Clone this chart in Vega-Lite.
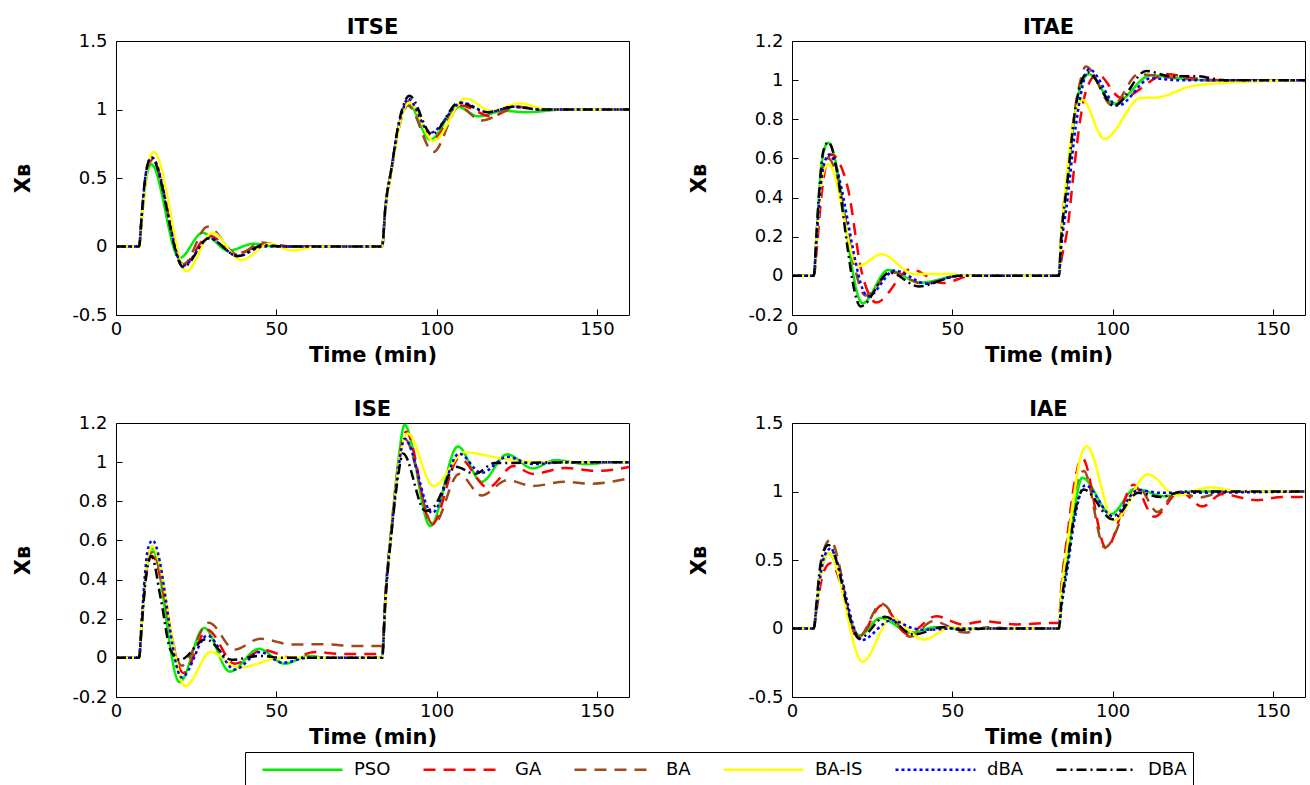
{
"$schema":"https://vega.github.io/schema/vega-lite/v6.json",
"padding":{"left":12,"top":16,"right":5,"bottom":0},
"background":"white",
"config":{
 "view":{"stroke":"black","strokeWidth":1},
 "font":"DejaVu Sans",
 "axis":{"grid":false,"domain":false,"offset":-6,"tickColor":"black","tickSize":6,"labelFont":"DejaVu Sans","labelFontSize":18,"labelColor":"black","titleFont":"DejaVu Sans","titleFontSize":21,"titleFontWeight":"bold","titleColor":"black","labelExpr":"replace(format(datum.value,'~g'),'−','-')"},
 "axisX":{"labelPadding":5,"titlePadding":6,"labelFlush":false},
 "axisY":{"labelPadding":9,"titlePadding":38},
 "title":{"font":"DejaVu Sans","fontSize":21,"fontWeight":"bold","color":"black","offset":-6},
 "legend":{"symbolType":"M-4,0H4","symbolSize":400,"symbolOffset":40,"symbolStrokeWidth":2.5,"labelFont":"DejaVu Sans","labelFontSize":18,"labelColor":"black","labelOffset":40,"columnPadding":21,"padding":6,"strokeColor":"black","direction":"horizontal","orient":"none","legendX":129,"legendY":711}
},
"data":{"name":"d"},
"datasets":{"d":[
{"p":"ITSE","a":"PSO","t":0,"x":0},{"p":"ITSE","a":"PSO","t":7.2,"x":0},{"p":"ITSE","a":"PSO","t":8,"x":0.19},{"p":"ITSE","a":"PSO","t":9,"x":0.42},{"p":"ITSE","a":"PSO","t":10,"x":0.56},{"p":"ITSE","a":"PSO","t":11,"x":0.6},{"p":"ITSE","a":"PSO","t":19.8,"x":-0.085},{"p":"ITSE","a":"PSO","t":27,"x":0.1},{"p":"ITSE","a":"PSO","t":35,"x":-0.03},{"p":"ITSE","a":"PSO","t":43,"x":0.02},{"p":"ITSE","a":"PSO","t":50,"x":0},{"p":"ITSE","a":"PSO","t":83,"x":0},{"p":"ITSE","a":"PSO","t":84,"x":0.28},{"p":"ITSE","a":"PSO","t":86,"x":0.58},{"p":"ITSE","a":"PSO","t":88,"x":0.86},{"p":"ITSE","a":"PSO","t":89.5,"x":0.99},{"p":"ITSE","a":"PSO","t":91,"x":1.05},{"p":"ITSE","a":"PSO","t":98,"x":0.78},{"p":"ITSE","a":"PSO","t":106.5,"x":1.02},{"p":"ITSE","a":"PSO","t":113,"x":0.95},{"p":"ITSE","a":"PSO","t":121,"x":0.99},{"p":"ITSE","a":"PSO","t":128,"x":0.98},{"p":"ITSE","a":"PSO","t":140,"x":1},{"p":"ITSE","a":"PSO","t":160,"x":1},
{"p":"ITSE","a":"GA","t":0,"x":0},{"p":"ITSE","a":"GA","t":7.2,"x":0},{"p":"ITSE","a":"GA","t":8,"x":0.2},{"p":"ITSE","a":"GA","t":9,"x":0.45},{"p":"ITSE","a":"GA","t":10,"x":0.59},{"p":"ITSE","a":"GA","t":11.3,"x":0.63},{"p":"ITSE","a":"GA","t":21,"x":-0.13},{"p":"ITSE","a":"GA","t":29,"x":0.08},{"p":"ITSE","a":"GA","t":37.5,"x":-0.05},{"p":"ITSE","a":"GA","t":47,"x":0.02},{"p":"ITSE","a":"GA","t":55,"x":0},{"p":"ITSE","a":"GA","t":83,"x":0},{"p":"ITSE","a":"GA","t":84,"x":0.27},{"p":"ITSE","a":"GA","t":86,"x":0.57},{"p":"ITSE","a":"GA","t":88,"x":0.85},{"p":"ITSE","a":"GA","t":89.5,"x":0.98},{"p":"ITSE","a":"GA","t":91.2,"x":1.06},{"p":"ITSE","a":"GA","t":99,"x":0.79},{"p":"ITSE","a":"GA","t":107.5,"x":1.03},{"p":"ITSE","a":"GA","t":117,"x":0.95},{"p":"ITSE","a":"GA","t":125,"x":1.02},{"p":"ITSE","a":"GA","t":133,"x":1},{"p":"ITSE","a":"GA","t":160,"x":1},
{"p":"ITSE","a":"BA","t":0,"x":0},{"p":"ITSE","a":"BA","t":7.2,"x":0},{"p":"ITSE","a":"BA","t":8,"x":0.21},{"p":"ITSE","a":"BA","t":9,"x":0.46},{"p":"ITSE","a":"BA","t":10,"x":0.6},{"p":"ITSE","a":"BA","t":11.2,"x":0.64},{"p":"ITSE","a":"BA","t":21,"x":-0.13},{"p":"ITSE","a":"BA","t":28.5,"x":0.145},{"p":"ITSE","a":"BA","t":38,"x":-0.06},{"p":"ITSE","a":"BA","t":45.5,"x":0.03},{"p":"ITSE","a":"BA","t":52,"x":0},{"p":"ITSE","a":"BA","t":83,"x":0},{"p":"ITSE","a":"BA","t":84,"x":0.27},{"p":"ITSE","a":"BA","t":86,"x":0.56},{"p":"ITSE","a":"BA","t":88,"x":0.84},{"p":"ITSE","a":"BA","t":89.5,"x":0.97},{"p":"ITSE","a":"BA","t":91,"x":1.03},{"p":"ITSE","a":"BA","t":99,"x":0.69},{"p":"ITSE","a":"BA","t":107,"x":1.02},{"p":"ITSE","a":"BA","t":114,"x":0.92},{"p":"ITSE","a":"BA","t":125,"x":1.02},{"p":"ITSE","a":"BA","t":133,"x":1},{"p":"ITSE","a":"BA","t":160,"x":1},
{"p":"ITSE","a":"BA-IS","t":0,"x":0},{"p":"ITSE","a":"BA-IS","t":7.2,"x":0},{"p":"ITSE","a":"BA-IS","t":8,"x":0.18},{"p":"ITSE","a":"BA-IS","t":9,"x":0.43},{"p":"ITSE","a":"BA-IS","t":10,"x":0.6},{"p":"ITSE","a":"BA-IS","t":11.8,"x":0.69},{"p":"ITSE","a":"BA-IS","t":22,"x":-0.18},{"p":"ITSE","a":"BA-IS","t":30,"x":0.1},{"p":"ITSE","a":"BA-IS","t":39,"x":-0.1},{"p":"ITSE","a":"BA-IS","t":48,"x":0.02},{"p":"ITSE","a":"BA-IS","t":55,"x":-0.03},{"p":"ITSE","a":"BA-IS","t":63,"x":0},{"p":"ITSE","a":"BA-IS","t":83,"x":0},{"p":"ITSE","a":"BA-IS","t":84,"x":0.27},{"p":"ITSE","a":"BA-IS","t":86,"x":0.56},{"p":"ITSE","a":"BA-IS","t":88,"x":0.84},{"p":"ITSE","a":"BA-IS","t":89.5,"x":0.98},{"p":"ITSE","a":"BA-IS","t":91.5,"x":1.05},{"p":"ITSE","a":"BA-IS","t":99,"x":0.77},{"p":"ITSE","a":"BA-IS","t":109,"x":1.08},{"p":"ITSE","a":"BA-IS","t":117,"x":0.99},{"p":"ITSE","a":"BA-IS","t":126,"x":1.045},{"p":"ITSE","a":"BA-IS","t":135,"x":1},{"p":"ITSE","a":"BA-IS","t":160,"x":1},
{"p":"ITSE","a":"dBA","t":0,"x":0},{"p":"ITSE","a":"dBA","t":7.2,"x":0},{"p":"ITSE","a":"dBA","t":8,"x":0.22},{"p":"ITSE","a":"dBA","t":9,"x":0.48},{"p":"ITSE","a":"dBA","t":10,"x":0.61},{"p":"ITSE","a":"dBA","t":11.2,"x":0.65},{"p":"ITSE","a":"dBA","t":21,"x":-0.14},{"p":"ITSE","a":"dBA","t":29,"x":0.06},{"p":"ITSE","a":"dBA","t":38,"x":-0.07},{"p":"ITSE","a":"dBA","t":46,"x":0},{"p":"ITSE","a":"dBA","t":83,"x":0},{"p":"ITSE","a":"dBA","t":84,"x":0.28},{"p":"ITSE","a":"dBA","t":86,"x":0.58},{"p":"ITSE","a":"dBA","t":88,"x":0.87},{"p":"ITSE","a":"dBA","t":89.5,"x":1},{"p":"ITSE","a":"dBA","t":91,"x":1.08},{"p":"ITSE","a":"dBA","t":98,"x":0.83},{"p":"ITSE","a":"dBA","t":108,"x":1.05},{"p":"ITSE","a":"dBA","t":116,"x":0.98},{"p":"ITSE","a":"dBA","t":124,"x":1.02},{"p":"ITSE","a":"dBA","t":132,"x":1},{"p":"ITSE","a":"dBA","t":160,"x":1},
{"p":"ITSE","a":"DBA","t":0,"x":0},{"p":"ITSE","a":"DBA","t":7.2,"x":0},{"p":"ITSE","a":"DBA","t":8,"x":0.22},{"p":"ITSE","a":"DBA","t":9,"x":0.48},{"p":"ITSE","a":"DBA","t":10,"x":0.61},{"p":"ITSE","a":"DBA","t":11,"x":0.65},{"p":"ITSE","a":"DBA","t":21,"x":-0.15},{"p":"ITSE","a":"DBA","t":29,"x":0.06},{"p":"ITSE","a":"DBA","t":38,"x":-0.07},{"p":"ITSE","a":"DBA","t":46,"x":0.01},{"p":"ITSE","a":"DBA","t":52,"x":0},{"p":"ITSE","a":"DBA","t":83,"x":0},{"p":"ITSE","a":"DBA","t":84,"x":0.28},{"p":"ITSE","a":"DBA","t":86,"x":0.58},{"p":"ITSE","a":"DBA","t":88,"x":0.88},{"p":"ITSE","a":"DBA","t":89.5,"x":1.02},{"p":"ITSE","a":"DBA","t":91.5,"x":1.1},{"p":"ITSE","a":"DBA","t":98.5,"x":0.82},{"p":"ITSE","a":"DBA","t":107,"x":1.05},{"p":"ITSE","a":"DBA","t":116,"x":0.98},{"p":"ITSE","a":"DBA","t":124,"x":1.02},{"p":"ITSE","a":"DBA","t":132,"x":1},{"p":"ITSE","a":"DBA","t":160,"x":1},

{"p":"ITAE","a":"PSO","t":0,"x":0},{"p":"ITAE","a":"PSO","t":6.8,"x":0},{"p":"ITAE","a":"PSO","t":7.6,"x":0.2},{"p":"ITAE","a":"PSO","t":8.6,"x":0.45},{"p":"ITAE","a":"PSO","t":9.8,"x":0.63},{"p":"ITAE","a":"PSO","t":11.3,"x":0.68},{"p":"ITAE","a":"PSO","t":22,"x":-0.14},{"p":"ITAE","a":"PSO","t":30,"x":0.03},{"p":"ITAE","a":"PSO","t":40,"x":-0.035},{"p":"ITAE","a":"PSO","t":52,"x":0},{"p":"ITAE","a":"PSO","t":83.2,"x":0},{"p":"ITAE","a":"PSO","t":84,"x":0.2},{"p":"ITAE","a":"PSO","t":86,"x":0.5},{"p":"ITAE","a":"PSO","t":88,"x":0.8},{"p":"ITAE","a":"PSO","t":90,"x":0.97},{"p":"ITAE","a":"PSO","t":92.6,"x":1.03},{"p":"ITAE","a":"PSO","t":100.5,"x":0.88},{"p":"ITAE","a":"PSO","t":112,"x":1.025},{"p":"ITAE","a":"PSO","t":120,"x":1.01},{"p":"ITAE","a":"PSO","t":130,"x":1},{"p":"ITAE","a":"PSO","t":160,"x":1},
{"p":"ITAE","a":"GA","t":0,"x":0},{"p":"ITAE","a":"GA","t":6.8,"x":0},{"p":"ITAE","a":"GA","t":7.8,"x":0.15},{"p":"ITAE","a":"GA","t":9,"x":0.38},{"p":"ITAE","a":"GA","t":10.5,"x":0.56},{"p":"ITAE","a":"GA","t":12.2,"x":0.62},{"p":"ITAE","a":"GA","t":17.4,"x":0.45},{"p":"ITAE","a":"GA","t":21.6,"x":0.03},{"p":"ITAE","a":"GA","t":26.3,"x":-0.136},{"p":"ITAE","a":"GA","t":37,"x":0.034},{"p":"ITAE","a":"GA","t":47,"x":-0.037},{"p":"ITAE","a":"GA","t":56,"x":0},{"p":"ITAE","a":"GA","t":83.2,"x":0},{"p":"ITAE","a":"GA","t":84,"x":0.08},{"p":"ITAE","a":"GA","t":86,"x":0.25},{"p":"ITAE","a":"GA","t":88,"x":0.55},{"p":"ITAE","a":"GA","t":90,"x":0.81},{"p":"ITAE","a":"GA","t":92,"x":0.96},{"p":"ITAE","a":"GA","t":95.3,"x":1.03},{"p":"ITAE","a":"GA","t":102.6,"x":0.91},{"p":"ITAE","a":"GA","t":117,"x":1.03},{"p":"ITAE","a":"GA","t":125,"x":1.01},{"p":"ITAE","a":"GA","t":135,"x":1},{"p":"ITAE","a":"GA","t":160,"x":1},
{"p":"ITAE","a":"BA","t":0,"x":0},{"p":"ITAE","a":"BA","t":6.8,"x":0},{"p":"ITAE","a":"BA","t":7.6,"x":0.19},{"p":"ITAE","a":"BA","t":8.6,"x":0.42},{"p":"ITAE","a":"BA","t":9.8,"x":0.56},{"p":"ITAE","a":"BA","t":11.3,"x":0.6},{"p":"ITAE","a":"BA","t":23,"x":-0.1},{"p":"ITAE","a":"BA","t":31,"x":0.02},{"p":"ITAE","a":"BA","t":41,"x":-0.04},{"p":"ITAE","a":"BA","t":52,"x":0},{"p":"ITAE","a":"BA","t":83.2,"x":0},{"p":"ITAE","a":"BA","t":84,"x":0.22},{"p":"ITAE","a":"BA","t":86,"x":0.52},{"p":"ITAE","a":"BA","t":88,"x":0.82},{"p":"ITAE","a":"BA","t":90,"x":1},{"p":"ITAE","a":"BA","t":91.6,"x":1.07},{"p":"ITAE","a":"BA","t":100,"x":0.87},{"p":"ITAE","a":"BA","t":108,"x":1.03},{"p":"ITAE","a":"BA","t":120,"x":1.01},{"p":"ITAE","a":"BA","t":130,"x":1},{"p":"ITAE","a":"BA","t":160,"x":1},
{"p":"ITAE","a":"BA-IS","t":0,"x":0},{"p":"ITAE","a":"BA-IS","t":6.8,"x":0},{"p":"ITAE","a":"BA-IS","t":7.6,"x":0.18},{"p":"ITAE","a":"BA-IS","t":8.6,"x":0.4},{"p":"ITAE","a":"BA-IS","t":9.8,"x":0.53},{"p":"ITAE","a":"BA-IS","t":11.4,"x":0.57},{"p":"ITAE","a":"BA-IS","t":20.7,"x":0.05},{"p":"ITAE","a":"BA-IS","t":27.9,"x":0.11},{"p":"ITAE","a":"BA-IS","t":38,"x":0.01},{"p":"ITAE","a":"BA-IS","t":48,"x":0.01},{"p":"ITAE","a":"BA-IS","t":55,"x":0},{"p":"ITAE","a":"BA-IS","t":83.2,"x":0},{"p":"ITAE","a":"BA-IS","t":84,"x":0.2},{"p":"ITAE","a":"BA-IS","t":86,"x":0.56},{"p":"ITAE","a":"BA-IS","t":88,"x":0.81},{"p":"ITAE","a":"BA-IS","t":90.5,"x":0.9},{"p":"ITAE","a":"BA-IS","t":97.4,"x":0.7},{"p":"ITAE","a":"BA-IS","t":109,"x":0.91},{"p":"ITAE","a":"BA-IS","t":113,"x":0.91},{"p":"ITAE","a":"BA-IS","t":125,"x":0.97},{"p":"ITAE","a":"BA-IS","t":140,"x":0.99},{"p":"ITAE","a":"BA-IS","t":160,"x":1},
{"p":"ITAE","a":"dBA","t":0,"x":0},{"p":"ITAE","a":"dBA","t":6.8,"x":0},{"p":"ITAE","a":"dBA","t":7.6,"x":0.17},{"p":"ITAE","a":"dBA","t":8.6,"x":0.4},{"p":"ITAE","a":"dBA","t":10,"x":0.57},{"p":"ITAE","a":"dBA","t":11.6,"x":0.62},{"p":"ITAE","a":"dBA","t":23.7,"x":-0.105},{"p":"ITAE","a":"dBA","t":32,"x":0.027},{"p":"ITAE","a":"dBA","t":42,"x":-0.04},{"p":"ITAE","a":"dBA","t":52,"x":0},{"p":"ITAE","a":"dBA","t":83.2,"x":0},{"p":"ITAE","a":"dBA","t":84,"x":0.15},{"p":"ITAE","a":"dBA","t":86,"x":0.4},{"p":"ITAE","a":"dBA","t":88,"x":0.7},{"p":"ITAE","a":"dBA","t":90,"x":0.92},{"p":"ITAE","a":"dBA","t":92.6,"x":1.056},{"p":"ITAE","a":"dBA","t":101.6,"x":0.87},{"p":"ITAE","a":"dBA","t":112,"x":1.01},{"p":"ITAE","a":"dBA","t":120,"x":1},{"p":"ITAE","a":"dBA","t":160,"x":1},
{"p":"ITAE","a":"DBA","t":0,"x":0},{"p":"ITAE","a":"DBA","t":6.8,"x":0},{"p":"ITAE","a":"DBA","t":7.6,"x":0.2},{"p":"ITAE","a":"DBA","t":8.6,"x":0.46},{"p":"ITAE","a":"DBA","t":9.8,"x":0.64},{"p":"ITAE","a":"DBA","t":11.3,"x":0.683},{"p":"ITAE","a":"DBA","t":21.4,"x":-0.156},{"p":"ITAE","a":"DBA","t":30.5,"x":0.017},{"p":"ITAE","a":"DBA","t":39.5,"x":-0.054},{"p":"ITAE","a":"DBA","t":52,"x":0},{"p":"ITAE","a":"DBA","t":83.2,"x":0},{"p":"ITAE","a":"DBA","t":84,"x":0.2},{"p":"ITAE","a":"DBA","t":86,"x":0.5},{"p":"ITAE","a":"DBA","t":88,"x":0.81},{"p":"ITAE","a":"DBA","t":90,"x":0.98},{"p":"ITAE","a":"DBA","t":92.3,"x":1.04},{"p":"ITAE","a":"DBA","t":100.5,"x":0.87},{"p":"ITAE","a":"DBA","t":110.5,"x":1.047},{"p":"ITAE","a":"DBA","t":118,"x":1.02},{"p":"ITAE","a":"DBA","t":126,"x":1.02},{"p":"ITAE","a":"DBA","t":135,"x":1},{"p":"ITAE","a":"DBA","t":160,"x":1},

{"p":"ISE","a":"PSO","t":0,"x":0},{"p":"ISE","a":"PSO","t":7.2,"x":0},{"p":"ISE","a":"PSO","t":8,"x":0.17},{"p":"ISE","a":"PSO","t":9,"x":0.38},{"p":"ISE","a":"PSO","t":10,"x":0.51},{"p":"ISE","a":"PSO","t":11.2,"x":0.56},{"p":"ISE","a":"PSO","t":19.8,"x":-0.124},{"p":"ISE","a":"PSO","t":27.5,"x":0.153},{"p":"ISE","a":"PSO","t":35.5,"x":-0.07},{"p":"ISE","a":"PSO","t":44.6,"x":0.046},{"p":"ISE","a":"PSO","t":52.6,"x":-0.03},{"p":"ISE","a":"PSO","t":60,"x":0.01},{"p":"ISE","a":"PSO","t":66,"x":0},{"p":"ISE","a":"PSO","t":83,"x":0},{"p":"ISE","a":"PSO","t":84,"x":0.3},{"p":"ISE","a":"PSO","t":86,"x":0.68},{"p":"ISE","a":"PSO","t":88,"x":1},{"p":"ISE","a":"PSO","t":90,"x":1.19},{"p":"ISE","a":"PSO","t":98,"x":0.674},{"p":"ISE","a":"PSO","t":106.6,"x":1.08},{"p":"ISE","a":"PSO","t":114,"x":0.9},{"p":"ISE","a":"PSO","t":122,"x":1.04},{"p":"ISE","a":"PSO","t":130,"x":0.968},{"p":"ISE","a":"PSO","t":137,"x":1.01},{"p":"ISE","a":"PSO","t":147,"x":0.99},{"p":"ISE","a":"PSO","t":155,"x":1},{"p":"ISE","a":"PSO","t":160,"x":1},
{"p":"ISE","a":"GA","t":0,"x":0},{"p":"ISE","a":"GA","t":7.2,"x":0},{"p":"ISE","a":"GA","t":8,"x":0.16},{"p":"ISE","a":"GA","t":9,"x":0.36},{"p":"ISE","a":"GA","t":10,"x":0.48},{"p":"ISE","a":"GA","t":11.2,"x":0.52},{"p":"ISE","a":"GA","t":21,"x":-0.077},{"p":"ISE","a":"GA","t":28.5,"x":0.144},{"p":"ISE","a":"GA","t":37,"x":-0.03},{"p":"ISE","a":"GA","t":46,"x":0.04},{"p":"ISE","a":"GA","t":55,"x":0},{"p":"ISE","a":"GA","t":62,"x":0.03},{"p":"ISE","a":"GA","t":70,"x":0.02},{"p":"ISE","a":"GA","t":83,"x":0.02},{"p":"ISE","a":"GA","t":84,"x":0.3},{"p":"ISE","a":"GA","t":86,"x":0.66},{"p":"ISE","a":"GA","t":88,"x":0.97},{"p":"ISE","a":"GA","t":90.5,"x":1.155},{"p":"ISE","a":"GA","t":98.5,"x":0.68},{"p":"ISE","a":"GA","t":107,"x":1.02},{"p":"ISE","a":"GA","t":116,"x":0.87},{"p":"ISE","a":"GA","t":124,"x":0.98},{"p":"ISE","a":"GA","t":130,"x":0.94},{"p":"ISE","a":"GA","t":140,"x":0.97},{"p":"ISE","a":"GA","t":150,"x":0.955},{"p":"ISE","a":"GA","t":160,"x":0.975},
{"p":"ISE","a":"BA","t":0,"x":0},{"p":"ISE","a":"BA","t":7.2,"x":0},{"p":"ISE","a":"BA","t":8,"x":0.17},{"p":"ISE","a":"BA","t":9,"x":0.37},{"p":"ISE","a":"BA","t":10,"x":0.5},{"p":"ISE","a":"BA","t":11.2,"x":0.54},{"p":"ISE","a":"BA","t":20.5,"x":-0.04},{"p":"ISE","a":"BA","t":29,"x":0.18},{"p":"ISE","a":"BA","t":37,"x":0.042},{"p":"ISE","a":"BA","t":45,"x":0.098},{"p":"ISE","a":"BA","t":55,"x":0.068},{"p":"ISE","a":"BA","t":65,"x":0.07},{"p":"ISE","a":"BA","t":75,"x":0.06},{"p":"ISE","a":"BA","t":83,"x":0.06},{"p":"ISE","a":"BA","t":84,"x":0.32},{"p":"ISE","a":"BA","t":86,"x":0.68},{"p":"ISE","a":"BA","t":88,"x":0.98},{"p":"ISE","a":"BA","t":90,"x":1.12},{"p":"ISE","a":"BA","t":99,"x":0.68},{"p":"ISE","a":"BA","t":107,"x":0.94},{"p":"ISE","a":"BA","t":114,"x":0.83},{"p":"ISE","a":"BA","t":122,"x":0.908},{"p":"ISE","a":"BA","t":130,"x":0.878},{"p":"ISE","a":"BA","t":140,"x":0.9},{"p":"ISE","a":"BA","t":148,"x":0.89},{"p":"ISE","a":"BA","t":160,"x":0.917},
{"p":"ISE","a":"BA-IS","t":0,"x":0},{"p":"ISE","a":"BA-IS","t":7.2,"x":0},{"p":"ISE","a":"BA-IS","t":8,"x":0.17},{"p":"ISE","a":"BA-IS","t":9,"x":0.38},{"p":"ISE","a":"BA-IS","t":10,"x":0.52},{"p":"ISE","a":"BA-IS","t":11.3,"x":0.57},{"p":"ISE","a":"BA-IS","t":21.6,"x":-0.144},{"p":"ISE","a":"BA-IS","t":29.6,"x":0.03},{"p":"ISE","a":"BA-IS","t":38,"x":-0.05},{"p":"ISE","a":"BA-IS","t":52,"x":0},{"p":"ISE","a":"BA-IS","t":83,"x":0},{"p":"ISE","a":"BA-IS","t":84,"x":0.28},{"p":"ISE","a":"BA-IS","t":86,"x":0.66},{"p":"ISE","a":"BA-IS","t":88,"x":0.97},{"p":"ISE","a":"BA-IS","t":91,"x":1.146},{"p":"ISE","a":"BA-IS","t":99,"x":0.878},{"p":"ISE","a":"BA-IS","t":108.8,"x":1.05},{"p":"ISE","a":"BA-IS","t":120,"x":1.02},{"p":"ISE","a":"BA-IS","t":130,"x":1},{"p":"ISE","a":"BA-IS","t":160,"x":1},
{"p":"ISE","a":"dBA","t":0,"x":0},{"p":"ISE","a":"dBA","t":7.2,"x":0},{"p":"ISE","a":"dBA","t":8,"x":0.19},{"p":"ISE","a":"dBA","t":9,"x":0.42},{"p":"ISE","a":"dBA","t":10,"x":0.56},{"p":"ISE","a":"dBA","t":11.4,"x":0.6},{"p":"ISE","a":"dBA","t":20.5,"x":-0.1},{"p":"ISE","a":"dBA","t":28.5,"x":0.114},{"p":"ISE","a":"dBA","t":37,"x":-0.06},{"p":"ISE","a":"dBA","t":45,"x":0.03},{"p":"ISE","a":"dBA","t":52,"x":-0.025},{"p":"ISE","a":"dBA","t":60,"x":0},{"p":"ISE","a":"dBA","t":83,"x":0},{"p":"ISE","a":"dBA","t":84,"x":0.3},{"p":"ISE","a":"dBA","t":86,"x":0.66},{"p":"ISE","a":"dBA","t":88,"x":0.96},{"p":"ISE","a":"dBA","t":90,"x":1.12},{"p":"ISE","a":"dBA","t":98.6,"x":0.74},{"p":"ISE","a":"dBA","t":107,"x":1.044},{"p":"ISE","a":"dBA","t":114,"x":0.945},{"p":"ISE","a":"dBA","t":122,"x":1.027},{"p":"ISE","a":"dBA","t":130,"x":0.99},{"p":"ISE","a":"dBA","t":140,"x":1},{"p":"ISE","a":"dBA","t":160,"x":1},
{"p":"ISE","a":"DBA","t":0,"x":0},{"p":"ISE","a":"DBA","t":7.2,"x":0},{"p":"ISE","a":"DBA","t":8,"x":0.16},{"p":"ISE","a":"DBA","t":9,"x":0.36},{"p":"ISE","a":"DBA","t":10,"x":0.48},{"p":"ISE","a":"DBA","t":11,"x":0.52},{"p":"ISE","a":"DBA","t":14,"x":0.3},{"p":"ISE","a":"DBA","t":17,"x":0.04},{"p":"ISE","a":"DBA","t":20,"x":-0.01},{"p":"ISE","a":"DBA","t":28,"x":0.095},{"p":"ISE","a":"DBA","t":36,"x":-0.01},{"p":"ISE","a":"DBA","t":45,"x":0.01},{"p":"ISE","a":"DBA","t":52,"x":0},{"p":"ISE","a":"DBA","t":83,"x":0},{"p":"ISE","a":"DBA","t":84,"x":0.28},{"p":"ISE","a":"DBA","t":86,"x":0.65},{"p":"ISE","a":"DBA","t":88,"x":0.93},{"p":"ISE","a":"DBA","t":89.5,"x":1.044},{"p":"ISE","a":"DBA","t":96.5,"x":0.75},{"p":"ISE","a":"DBA","t":99,"x":0.77},{"p":"ISE","a":"DBA","t":106,"x":0.976},{"p":"ISE","a":"DBA","t":112,"x":0.94},{"p":"ISE","a":"DBA","t":118,"x":0.995},{"p":"ISE","a":"DBA","t":160,"x":1},

{"p":"IAE","a":"PSO","t":0,"x":0},{"p":"IAE","a":"PSO","t":6.8,"x":0},{"p":"IAE","a":"PSO","t":7.6,"x":0.15},{"p":"IAE","a":"PSO","t":8.6,"x":0.35},{"p":"IAE","a":"PSO","t":10,"x":0.5},{"p":"IAE","a":"PSO","t":11.4,"x":0.55},{"p":"IAE","a":"PSO","t":21,"x":-0.05},{"p":"IAE","a":"PSO","t":27.6,"x":0.077},{"p":"IAE","a":"PSO","t":37,"x":-0.03},{"p":"IAE","a":"PSO","t":45,"x":0.01},{"p":"IAE","a":"PSO","t":52,"x":0},{"p":"IAE","a":"PSO","t":83.2,"x":0},{"p":"IAE","a":"PSO","t":84,"x":0.2},{"p":"IAE","a":"PSO","t":86,"x":0.5},{"p":"IAE","a":"PSO","t":88,"x":0.85},{"p":"IAE","a":"PSO","t":90.5,"x":1.1},{"p":"IAE","a":"PSO","t":99.5,"x":0.835},{"p":"IAE","a":"PSO","t":107,"x":1.02},{"p":"IAE","a":"PSO","t":116,"x":0.966},{"p":"IAE","a":"PSO","t":125,"x":1},{"p":"IAE","a":"PSO","t":160,"x":1},
{"p":"IAE","a":"GA","t":0,"x":0},{"p":"IAE","a":"GA","t":6.8,"x":0},{"p":"IAE","a":"GA","t":7.6,"x":0.12},{"p":"IAE","a":"GA","t":8.6,"x":0.28},{"p":"IAE","a":"GA","t":10,"x":0.42},{"p":"IAE","a":"GA","t":12,"x":0.477},{"p":"IAE","a":"GA","t":21,"x":-0.06},{"p":"IAE","a":"GA","t":28,"x":0.17},{"p":"IAE","a":"GA","t":36,"x":-0.04},{"p":"IAE","a":"GA","t":45,"x":0.09},{"p":"IAE","a":"GA","t":53,"x":0.03},{"p":"IAE","a":"GA","t":60,"x":0.053},{"p":"IAE","a":"GA","t":70,"x":0.03},{"p":"IAE","a":"GA","t":80,"x":0.04},{"p":"IAE","a":"GA","t":83.2,"x":0.04},{"p":"IAE","a":"GA","t":84,"x":0.3},{"p":"IAE","a":"GA","t":86,"x":0.7},{"p":"IAE","a":"GA","t":88,"x":1.05},{"p":"IAE","a":"GA","t":90.5,"x":1.245},{"p":"IAE","a":"GA","t":98,"x":0.586},{"p":"IAE","a":"GA","t":106.5,"x":1.05},{"p":"IAE","a":"GA","t":113,"x":0.816},{"p":"IAE","a":"GA","t":121,"x":1},{"p":"IAE","a":"GA","t":128,"x":0.89},{"p":"IAE","a":"GA","t":134,"x":0.98},{"p":"IAE","a":"GA","t":145,"x":0.937},{"p":"IAE","a":"GA","t":153,"x":0.96},{"p":"IAE","a":"GA","t":160,"x":0.96},
{"p":"IAE","a":"BA","t":0,"x":0},{"p":"IAE","a":"BA","t":6.8,"x":0},{"p":"IAE","a":"BA","t":7.6,"x":0.17},{"p":"IAE","a":"BA","t":8.6,"x":0.4},{"p":"IAE","a":"BA","t":10,"x":0.58},{"p":"IAE","a":"BA","t":11.9,"x":0.646},{"p":"IAE","a":"BA","t":20.5,"x":-0.07},{"p":"IAE","a":"BA","t":27.9,"x":0.18},{"p":"IAE","a":"BA","t":36.8,"x":-0.06},{"p":"IAE","a":"BA","t":44,"x":0.053},{"p":"IAE","a":"BA","t":54,"x":-0.03},{"p":"IAE","a":"BA","t":61,"x":0.01},{"p":"IAE","a":"BA","t":68,"x":0},{"p":"IAE","a":"BA","t":83.2,"x":0},{"p":"IAE","a":"BA","t":84,"x":0.28},{"p":"IAE","a":"BA","t":86,"x":0.66},{"p":"IAE","a":"BA","t":88,"x":0.98},{"p":"IAE","a":"BA","t":91,"x":1.15},{"p":"IAE","a":"BA","t":97.5,"x":0.59},{"p":"IAE","a":"BA","t":108,"x":1.03},{"p":"IAE","a":"BA","t":114,"x":0.85},{"p":"IAE","a":"BA","t":120,"x":1},{"p":"IAE","a":"BA","t":127,"x":0.956},{"p":"IAE","a":"BA","t":135,"x":1},{"p":"IAE","a":"BA","t":160,"x":1},
{"p":"IAE","a":"BA-IS","t":0,"x":0},{"p":"IAE","a":"BA-IS","t":6.8,"x":0},{"p":"IAE","a":"BA-IS","t":7.6,"x":0.15},{"p":"IAE","a":"BA-IS","t":8.6,"x":0.35},{"p":"IAE","a":"BA-IS","t":10,"x":0.5},{"p":"IAE","a":"BA-IS","t":11.5,"x":0.55},{"p":"IAE","a":"BA-IS","t":22,"x":-0.242},{"p":"IAE","a":"BA-IS","t":31,"x":0.077},{"p":"IAE","a":"BA-IS","t":41,"x":-0.08},{"p":"IAE","a":"BA-IS","t":50,"x":0.01},{"p":"IAE","a":"BA-IS","t":56,"x":0},{"p":"IAE","a":"BA-IS","t":83.2,"x":0},{"p":"IAE","a":"BA-IS","t":84,"x":0.25},{"p":"IAE","a":"BA-IS","t":86,"x":0.62},{"p":"IAE","a":"BA-IS","t":88,"x":0.98},{"p":"IAE","a":"BA-IS","t":90,"x":1.25},{"p":"IAE","a":"BA-IS","t":91.9,"x":1.33},{"p":"IAE","a":"BA-IS","t":100.5,"x":0.79},{"p":"IAE","a":"BA-IS","t":111,"x":1.126},{"p":"IAE","a":"BA-IS","t":120,"x":0.97},{"p":"IAE","a":"BA-IS","t":130,"x":1.03},{"p":"IAE","a":"BA-IS","t":140,"x":1},{"p":"IAE","a":"BA-IS","t":160,"x":1},
{"p":"IAE","a":"dBA","t":0,"x":0},{"p":"IAE","a":"dBA","t":6.8,"x":0},{"p":"IAE","a":"dBA","t":7.6,"x":0.14},{"p":"IAE","a":"dBA","t":8.6,"x":0.34},{"p":"IAE","a":"dBA","t":10,"x":0.52},{"p":"IAE","a":"dBA","t":11.8,"x":0.58},{"p":"IAE","a":"dBA","t":21.6,"x":-0.085},{"p":"IAE","a":"dBA","t":31,"x":0.06},{"p":"IAE","a":"dBA","t":38,"x":0},{"p":"IAE","a":"dBA","t":42,"x":-0.01},{"p":"IAE","a":"dBA","t":50,"x":0},{"p":"IAE","a":"dBA","t":83.2,"x":0},{"p":"IAE","a":"dBA","t":84,"x":0.15},{"p":"IAE","a":"dBA","t":86,"x":0.45},{"p":"IAE","a":"dBA","t":88,"x":0.78},{"p":"IAE","a":"dBA","t":91.5,"x":1.046},{"p":"IAE","a":"dBA","t":100,"x":0.82},{"p":"IAE","a":"dBA","t":108,"x":1.01},{"p":"IAE","a":"dBA","t":115,"x":0.99},{"p":"IAE","a":"dBA","t":160,"x":1},
{"p":"IAE","a":"DBA","t":0,"x":0},{"p":"IAE","a":"DBA","t":6.8,"x":0},{"p":"IAE","a":"DBA","t":7.6,"x":0.17},{"p":"IAE","a":"DBA","t":8.6,"x":0.42},{"p":"IAE","a":"DBA","t":10,"x":0.57},{"p":"IAE","a":"DBA","t":11.3,"x":0.61},{"p":"IAE","a":"DBA","t":21,"x":-0.073},{"p":"IAE","a":"DBA","t":29,"x":0.085},{"p":"IAE","a":"DBA","t":38,"x":-0.044},{"p":"IAE","a":"DBA","t":47,"x":0.01},{"p":"IAE","a":"DBA","t":53,"x":-0.01},{"p":"IAE","a":"DBA","t":60,"x":0},{"p":"IAE","a":"DBA","t":83.2,"x":0},{"p":"IAE","a":"DBA","t":84,"x":0.18},{"p":"IAE","a":"DBA","t":86,"x":0.5},{"p":"IAE","a":"DBA","t":88,"x":0.82},{"p":"IAE","a":"DBA","t":91,"x":1.015},{"p":"IAE","a":"DBA","t":100,"x":0.797},{"p":"IAE","a":"DBA","t":108,"x":0.99},{"p":"IAE","a":"DBA","t":115,"x":0.96},{"p":"IAE","a":"DBA","t":122,"x":1},{"p":"IAE","a":"DBA","t":160,"x":1}
]},
"columns":2,
"spacing":{"row":108,"column":163},
"bounds":"flush",
"concat":[
 {"title":"ITSE","width":513,"height":274,
  "transform":[{"filter":"datum.p==='ITSE'"}],
  "mark":{"type":"line","interpolate":"monotone","clip":true},
  "encoding":{
   "x":{"field":"t","type":"quantitative","scale":{"domain":[0,160],"nice":false},"axis":{"values":[0,50,100,150],"title":"Time (min)"}},
   "y":{"field":"x","type":"quantitative","scale":{"domain":[-0.5,1.5],"nice":false,"zero":false},"axis":{"values":[-0.5,0,0.5,1,1.5],"title":"Xʙ"}},
   "color":{"field":"a","type":"nominal","scale":{"domain":["PSO","GA","BA","BA-IS","dBA","DBA"],"range":["#00ee00","#ff0000","#9c4a1a","#ffff00","#0000ff","#000000"]},"legend":{"title":null}},
   "strokeDash":{"field":"a","type":"nominal","scale":{"domain":["PSO","GA","BA","BA-IS","dBA","DBA"],"range":[[1,0],[12,8],[12,8],[1,0],[3,3],[10,4,2,4]]},"legend":{"title":null}},
   "strokeWidth":{"field":"a","type":"ordinal","scale":{"domain":["PSO","GA","BA","BA-IS","dBA","DBA"],"range":[2.5,2.5,2.5,2.5,4.5,2.5]},"legend":{"title":null}}
  }},
 {"title":"ITAE","width":513,"height":274,
  "transform":[{"filter":"datum.p==='ITAE'"}],
  "mark":{"type":"line","interpolate":"monotone","clip":true},
  "encoding":{
   "x":{"field":"t","type":"quantitative","scale":{"domain":[0,160],"nice":false},"axis":{"values":[0,50,100,150],"title":"Time (min)"}},
   "y":{"field":"x","type":"quantitative","scale":{"domain":[-0.2,1.2],"nice":false,"zero":false},"axis":{"values":[-0.2,0,0.2,0.4,0.6,0.8,1,1.2],"title":"Xʙ"}},
   "color":{"field":"a","type":"nominal","scale":{"domain":["PSO","GA","BA","BA-IS","dBA","DBA"],"range":["#00ee00","#ff0000","#9c4a1a","#ffff00","#0000ff","#000000"]},"legend":{"title":null}},
   "strokeDash":{"field":"a","type":"nominal","scale":{"domain":["PSO","GA","BA","BA-IS","dBA","DBA"],"range":[[1,0],[12,8],[12,8],[1,0],[3,3],[10,4,2,4]]},"legend":{"title":null}},
   "strokeWidth":{"field":"a","type":"ordinal","scale":{"domain":["PSO","GA","BA","BA-IS","dBA","DBA"],"range":[2.5,2.5,2.5,2.5,4.5,2.5]},"legend":{"title":null}}
  }},
 {"title":"ISE","width":513,"height":274,
  "transform":[{"filter":"datum.p==='ISE'"}],
  "mark":{"type":"line","interpolate":"monotone","clip":true},
  "encoding":{
   "x":{"field":"t","type":"quantitative","scale":{"domain":[0,160],"nice":false},"axis":{"values":[0,50,100,150],"title":"Time (min)"}},
   "y":{"field":"x","type":"quantitative","scale":{"domain":[-0.2,1.2],"nice":false,"zero":false},"axis":{"values":[-0.2,0,0.2,0.4,0.6,0.8,1,1.2],"title":"Xʙ"}},
   "color":{"field":"a","type":"nominal","scale":{"domain":["PSO","GA","BA","BA-IS","dBA","DBA"],"range":["#00ee00","#ff0000","#9c4a1a","#ffff00","#0000ff","#000000"]},"legend":{"title":null}},
   "strokeDash":{"field":"a","type":"nominal","scale":{"domain":["PSO","GA","BA","BA-IS","dBA","DBA"],"range":[[1,0],[12,8],[12,8],[1,0],[3,3],[10,4,2,4]]},"legend":{"title":null}},
   "strokeWidth":{"field":"a","type":"ordinal","scale":{"domain":["PSO","GA","BA","BA-IS","dBA","DBA"],"range":[2.5,2.5,2.5,2.5,4.5,2.5]},"legend":{"title":null}}
  }},
 {"title":"IAE","width":513,"height":274,
  "transform":[{"filter":"datum.p==='IAE'"}],
  "mark":{"type":"line","interpolate":"monotone","clip":true},
  "encoding":{
   "x":{"field":"t","type":"quantitative","scale":{"domain":[0,160],"nice":false},"axis":{"values":[0,50,100,150],"title":"Time (min)"}},
   "y":{"field":"x","type":"quantitative","scale":{"domain":[-0.5,1.5],"nice":false,"zero":false},"axis":{"values":[-0.5,0,0.5,1,1.5],"title":"Xʙ"}},
   "color":{"field":"a","type":"nominal","scale":{"domain":["PSO","GA","BA","BA-IS","dBA","DBA"],"range":["#00ee00","#ff0000","#9c4a1a","#ffff00","#0000ff","#000000"]},"legend":{"title":null}},
   "strokeDash":{"field":"a","type":"nominal","scale":{"domain":["PSO","GA","BA","BA-IS","dBA","DBA"],"range":[[1,0],[12,8],[12,8],[1,0],[3,3],[10,4,2,4]]},"legend":{"title":null}},
   "strokeWidth":{"field":"a","type":"ordinal","scale":{"domain":["PSO","GA","BA","BA-IS","dBA","DBA"],"range":[2.5,2.5,2.5,2.5,4.5,2.5]},"legend":{"title":null}}
  }}
]
}
